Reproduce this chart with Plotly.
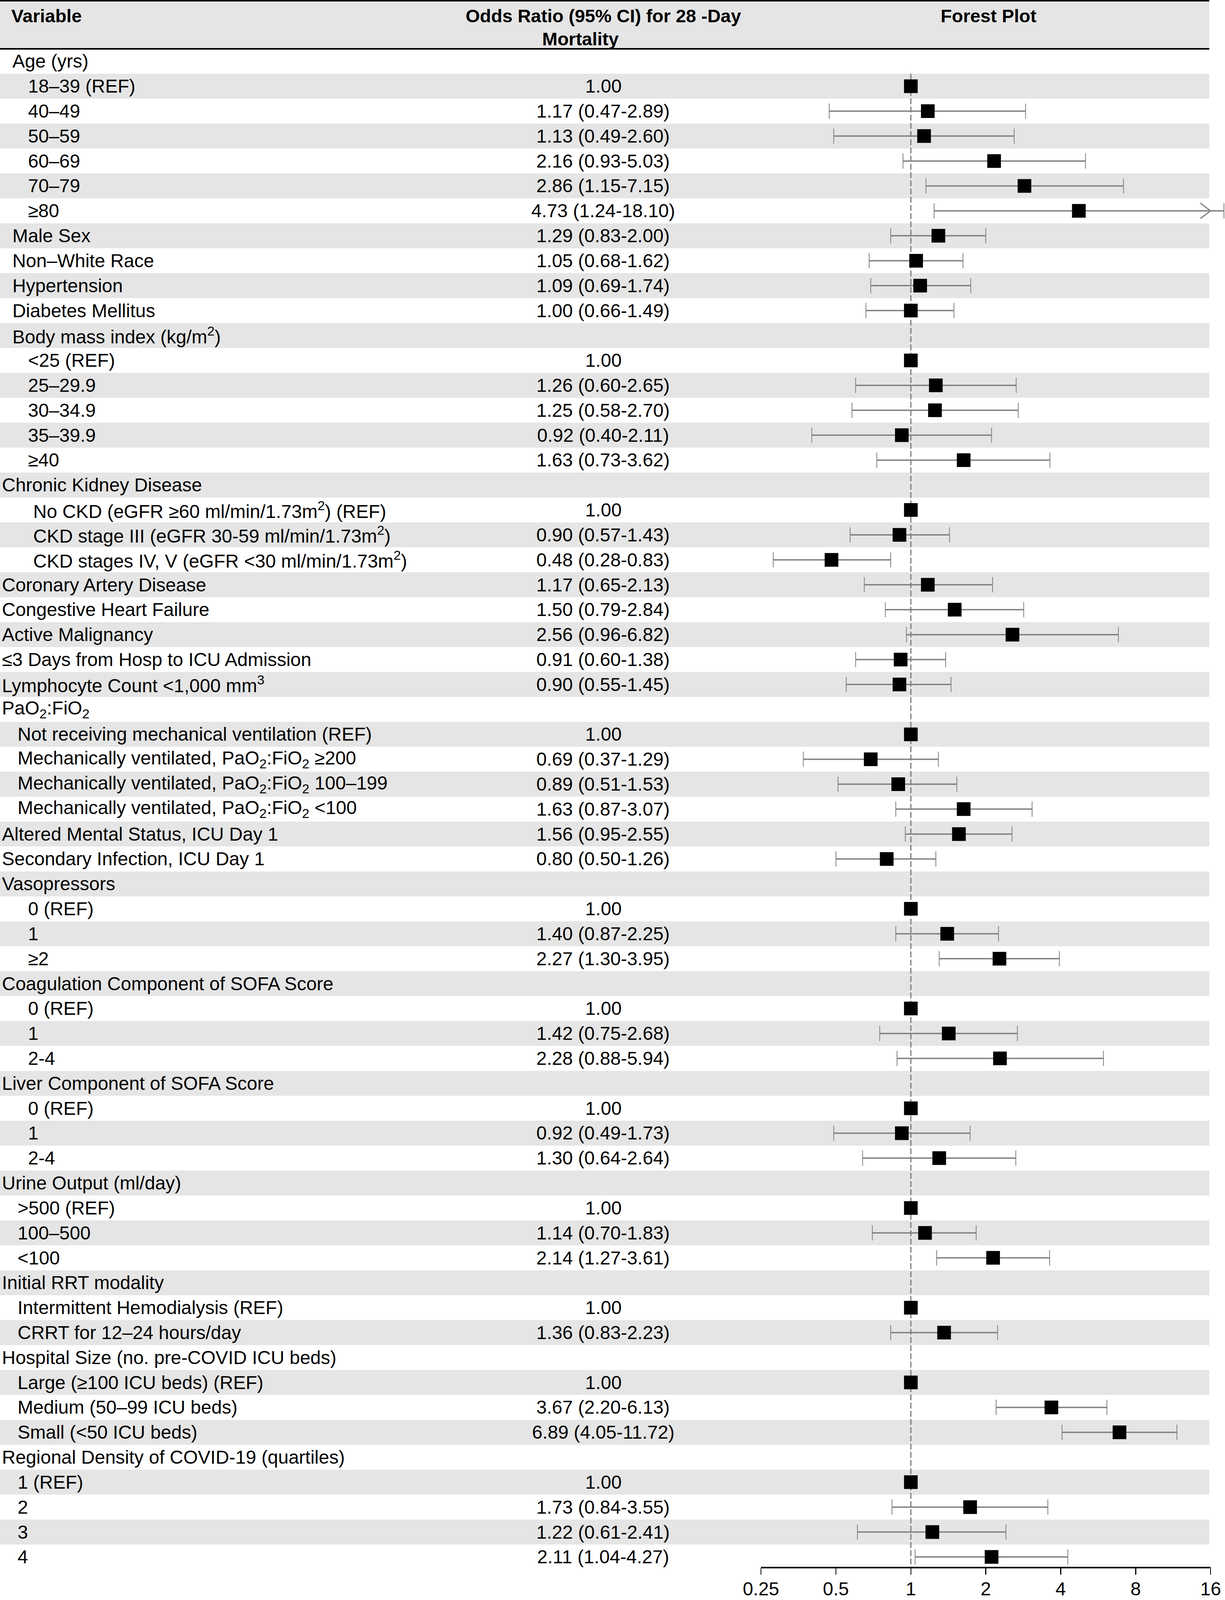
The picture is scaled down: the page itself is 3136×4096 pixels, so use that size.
import math
import plotly.graph_objects as go

# ---------------- data ----------------
NB = "\u00a0"
I1, I15, I2, I2B = NB * 2, NB * 3, NB * 5, NB * 6
MV = "Mechanically ventilated, PaO<sub>2</sub>:FiO<sub>2</sub> "

variables = [
    I1 + "Age (yrs)", I2 + "18–39 (REF)", I2 + "40–49", I2 + "50–59", I2 + "60–69", I2 + "70–79", I2 + "≥80",
    I1 + "Male Sex", I1 + "Non–White Race", I1 + "Hypertension", I1 + "Diabetes Mellitus",
    I1 + "Body mass index (kg/m<sup>2</sup>)", I2 + "&lt;25 (REF)", I2 + "25–29.9", I2 + "30–34.9", I2 + "35–39.9", I2 + "≥40",
    "Chronic Kidney Disease",
    I2B + "No CKD (eGFR ≥60 ml/min/1.73m<sup>2</sup>) (REF)",
    I2B + "CKD stage III (eGFR 30-59 ml/min/1.73m<sup>2</sup>)",
    I2B + "CKD stages IV, V (eGFR &lt;30 ml/min/1.73m<sup>2</sup>)",
    "Coronary Artery Disease", "Congestive Heart Failure", "Active Malignancy",
    "≤3 Days from Hosp to ICU Admission", "Lymphocyte Count &lt;1,000 mm<sup>3</sup>",
    "PaO<sub>2</sub>:FiO<sub>2</sub>",
    I15 + "Not receiving mechanical ventilation (REF)", I15 + MV + "≥200", I15 + MV + "100–199", I15 + MV + "&lt;100",
    "Altered Mental Status, ICU Day 1", "Secondary Infection, ICU Day 1",
    "Vasopressors", I2 + "0 (REF)", I2 + "1", I2 + "≥2",
    "Coagulation Component of SOFA Score", I2 + "0 (REF)", I2 + "1", I2 + "2-4",
    "Liver Component of SOFA Score", I2 + "0 (REF)", I2 + "1", I2 + "2-4",
    "Urine Output (ml/day)", I15 + "&gt;500 (REF)", I15 + "100–500", I15 + "&lt;100",
    "Initial RRT modality", I15 + "Intermittent Hemodialysis (REF)", I15 + "CRRT for 12–24 hours/day",
    "Hospital Size (no. pre-COVID ICU beds)", I15 + "Large (≥100 ICU beds) (REF)",
    I15 + "Medium (50–99 ICU beds)", I15 + "Small (&lt;50 ICU beds)",
    "Regional Density of COVID-19 (quartiles)", I15 + "1 (REF)", I15 + "2", I15 + "3", I15 + "4",
]

odds_ratio = [
    None, 1.00, 1.17, 1.13, 2.16, 2.86, 4.73,
    1.29, 1.05, 1.09, 1.00,
    None, 1.00, 1.26, 1.25, 0.92, 1.63,
    None, 1.00, 0.90, 0.48,
    1.17, 1.50, 2.56, 0.91, 0.90,
    None, 1.00, 0.69, 0.89, 1.63,
    1.56, 0.80,
    None, 1.00, 1.40, 2.27,
    None, 1.00, 1.42, 2.28,
    None, 1.00, 0.92, 1.30,
    None, 1.00, 1.14, 2.14,
    None, 1.00, 1.36,
    None, 1.00, 3.67, 6.89,
    None, 1.00, 1.73, 1.22, 2.11,
]
ci_low = [
    None, None, 0.47, 0.49, 0.93, 1.15, 1.24,
    0.83, 0.68, 0.69, 0.66,
    None, None, 0.60, 0.58, 0.40, 0.73,
    None, None, 0.57, 0.28,
    0.65, 0.79, 0.96, 0.60, 0.55,
    None, None, 0.37, 0.51, 0.87,
    0.95, 0.50,
    None, None, 0.87, 1.30,
    None, None, 0.75, 0.88,
    None, None, 0.49, 0.64,
    None, None, 0.70, 1.27,
    None, None, 0.83,
    None, None, 2.20, 4.05,
    None, None, 0.84, 0.61, 1.04,
]
ci_high = [
    None, None, 2.89, 2.60, 5.03, 7.15, 18.10,
    2.00, 1.62, 1.74, 1.49,
    None, None, 2.65, 2.70, 2.11, 3.62,
    None, None, 1.43, 0.83,
    2.13, 2.84, 6.82, 1.38, 1.45,
    None, None, 1.29, 1.53, 3.07,
    2.55, 1.26,
    None, None, 2.25, 3.95,
    None, None, 2.68, 5.94,
    None, None, 1.73, 2.64,
    None, None, 1.83, 3.61,
    None, None, 2.23,
    None, None, 6.13, 11.72,
    None, None, 3.55, 2.41, 4.27,
]
axis_ticks = [0.25, 0.5, 1, 2, 4, 8, 16]
axis_tick_labels = ["0.25", "0.5", "1", "2", "4", "8", "16"]
header_variable = "Variable"
header_or = ["Odds Ratio (95% CI) for 28 -Day", "Mortality"]
header_forest = "Forest Plot"

# ---------------- geometry (reference px, scaled to output) ----------------
REF_W, REF_H = 3828, 5000
W, H = 3136, 4096
S = W / REF_W

ROW1_Y = 191.5      # centre of first row
ROW_H = 77.9        # row pitch
X_ONE = 2846.3      # x of OR = 1
PX_DEC = 777.9      # px per decade
TABLE_RIGHT = 3779
AXIS_Y = 4899
HEAD_TOP, HEAD_BOT = 4.5, 150
LABEL_X = 5
FONT = "Liberation Sans, Arial, Helvetica, sans-serif"
FS = 48
HFS = 47
GREY_BAND = "#e5e5e5"
CI_COLOR = "#808080"

n = len(variables)
rows = list(range(1, n + 1))

def py(px):  # reference px from top -> paper y
    return 1 - px / REF_H

def px_x(px):  # reference px -> paper x
    return px / REF_W

x_min = 10 ** ((0 - X_ONE) / PX_DEC)
x_max = 10 ** ((REF_W - X_ONE) / PX_DEC)
y_top = 1 - ROW1_Y / ROW_H
y_bot = 1 + (REF_H - ROW1_Y) / ROW_H
axis_row = 1 + (AXIS_Y - ROW1_Y) / ROW_H

fig = go.Figure()

# row bands + header
shapes = []
for r in rows:
    if r % 2 == 0:
        shapes.append(dict(type="rect", xref="paper", yref="y", x0=0, x1=px_x(TABLE_RIGHT),
                           y0=r - 0.5, y1=r + 0.5, fillcolor=GREY_BAND, line_width=0, layer="below"))
shapes.append(dict(type="rect", xref="paper", yref="paper", x0=0, x1=px_x(TABLE_RIGHT),
                   y0=py(HEAD_BOT), y1=py(HEAD_TOP), fillcolor=GREY_BAND, line_width=0, layer="below"))
shapes.append(dict(type="rect", xref="paper", yref="paper", x0=0, x1=px_x(TABLE_RIGHT),
                   y0=py(HEAD_TOP), y1=1, fillcolor="black", line_width=0))
shapes.append(dict(type="rect", xref="paper", yref="paper", x0=0, x1=px_x(TABLE_RIGHT),
                   y0=py(HEAD_BOT + 5), y1=py(HEAD_BOT), fillcolor="black", line_width=0))

# reference line at OR = 1
first_data_row = next(r for r, v in zip(rows, odds_ratio) if v is not None)
fig.add_trace(go.Scatter(x=[1, 1], y=[first_data_row - 0.5, axis_row], mode="lines",
                         line=dict(color="#7a7a7a", width=3, dash="15px,6px"),
                         hoverinfo="skip", showlegend=False))

# CI lines
lx, ly, cx, cy = [], [], [], []
ax_max = max(axis_ticks)
arr_x, arr_y = [], []
for r, lo, hi in zip(rows, ci_low, ci_high):
    if lo is None:
        continue
    lx += [lo, hi, None]
    ly += [r, r, None]
    cx += [lo, hi]
    cy += [r, r]
    if hi > ax_max:
        back = ax_max / 10 ** (32 / PX_DEC)
        arr_x += [back, ax_max, back, None]
        arr_y += [r - 0.31, r, r + 0.31, None]
fig.add_trace(go.Scatter(x=lx, y=ly, mode="lines", line=dict(color=CI_COLOR, width=3.5),
                         hoverinfo="skip", showlegend=False))
fig.add_trace(go.Scatter(x=cx, y=cy, mode="markers",
                         marker=dict(symbol="line-ns", size=28, line=dict(color=CI_COLOR, width=2)),
                         hoverinfo="skip", showlegend=False))
if arr_x:
    fig.add_trace(go.Scatter(x=arr_x, y=arr_y, mode="lines", line=dict(color=CI_COLOR, width=3),
                             hoverinfo="skip", showlegend=False))

# point estimates
bx = [v for v in odds_ratio if v is not None]
by = [r for r, v in zip(rows, odds_ratio) if v is not None]
fig.add_trace(go.Scatter(x=bx, y=by, mode="markers",
                         marker=dict(symbol="square", size=35, color="black", line_width=0),
                         hoverinfo="skip", showlegend=False))

# dummy trace to anchor the visible axis
fig.add_trace(go.Scatter(x=[1], y=[first_data_row], xaxis="x2", mode="markers",
                         marker=dict(opacity=0), hoverinfo="skip", showlegend=False))

# text
ann = []
for r, lab, v, lo, hi in zip(rows, variables, odds_ratio, ci_low, ci_high):
    ann.append(dict(x=px_x(LABEL_X), xref="paper", y=r, yref="y", text=lab, xanchor="left", yanchor="middle",
                    showarrow=False, borderpad=0, font=dict(family=FONT, size=FS, color="black")))
    if v is not None:
        t = f"{v:.2f}" if lo is None else f"{v:.2f} ({lo:.2f}-{hi:.2f})"
        ann.append(dict(x=px_x(1885), xref="paper", y=r, yref="y", text=t, xanchor="center", yanchor="middle",
                        showarrow=False, font=dict(family=FONT, size=FS, color="black")))
hfont = dict(family=FONT, size=HFS, color="black")
ann.append(dict(x=px_x(34), xref="paper", y=py(49), yref="paper", text=f"<b>{header_variable}</b>",
                xanchor="left", yanchor="middle", showarrow=False, borderpad=0, font=hfont))
ann.append(dict(x=px_x(1885), xref="paper", y=py(49), yref="paper", text=f"<b>{header_or[0]}</b>",
                xanchor="center", yanchor="middle", showarrow=False, font=hfont))
ann.append(dict(x=px_x(1814), xref="paper", y=py(122), yref="paper", text=f"<b>{header_or[1]}</b>",
                xanchor="center", yanchor="middle", showarrow=False, font=hfont))
ann.append(dict(x=px_x(3090), xref="paper", y=py(49), yref="paper", text=f"<b>{header_forest}</b>",
                xanchor="center", yanchor="middle", showarrow=False, font=hfont))

x0_px = X_ONE + PX_DEC * math.log10(min(axis_ticks))
x1_px = X_ONE + PX_DEC * math.log10(max(axis_ticks))

fig.update_layout(
    width=W, height=H, margin=dict(l=0, r=0, t=0, b=0, autoexpand=False),
    paper_bgcolor="white", plot_bgcolor="rgba(0,0,0,0)",
    showlegend=False, shapes=shapes, annotations=ann,
    font=dict(family=FONT, size=FS, color="black"),
    xaxis=dict(type="log", range=[math.log10(x_min), math.log10(x_max)], domain=[0, 1],
               visible=False, fixedrange=True),
    xaxis2=dict(type="log", range=[math.log10(min(axis_ticks)), math.log10(max(axis_ticks))],
                domain=[px_x(x0_px), px_x(x1_px)], anchor="free", position=py(AXIS_Y),
                side="bottom", showline=True, linecolor="black", linewidth=4,
                ticks="outside", ticklen=16, tickwidth=2.5, tickcolor="black",
                tickvals=axis_ticks, ticktext=axis_tick_labels, ticklabelstandoff=-5,
                tickfont=dict(family=FONT, size=FS, color="black"), automargin=False,
                showgrid=False, zeroline=False, fixedrange=True),
    yaxis=dict(range=[y_bot, y_top], domain=[0, 1], visible=False, fixedrange=True),
)

fig.write_html("out.html", config={"displayModeBar": False, "staticPlot": True},
               post_script="document.body.style.margin='0';document.body.style.padding='0';")
